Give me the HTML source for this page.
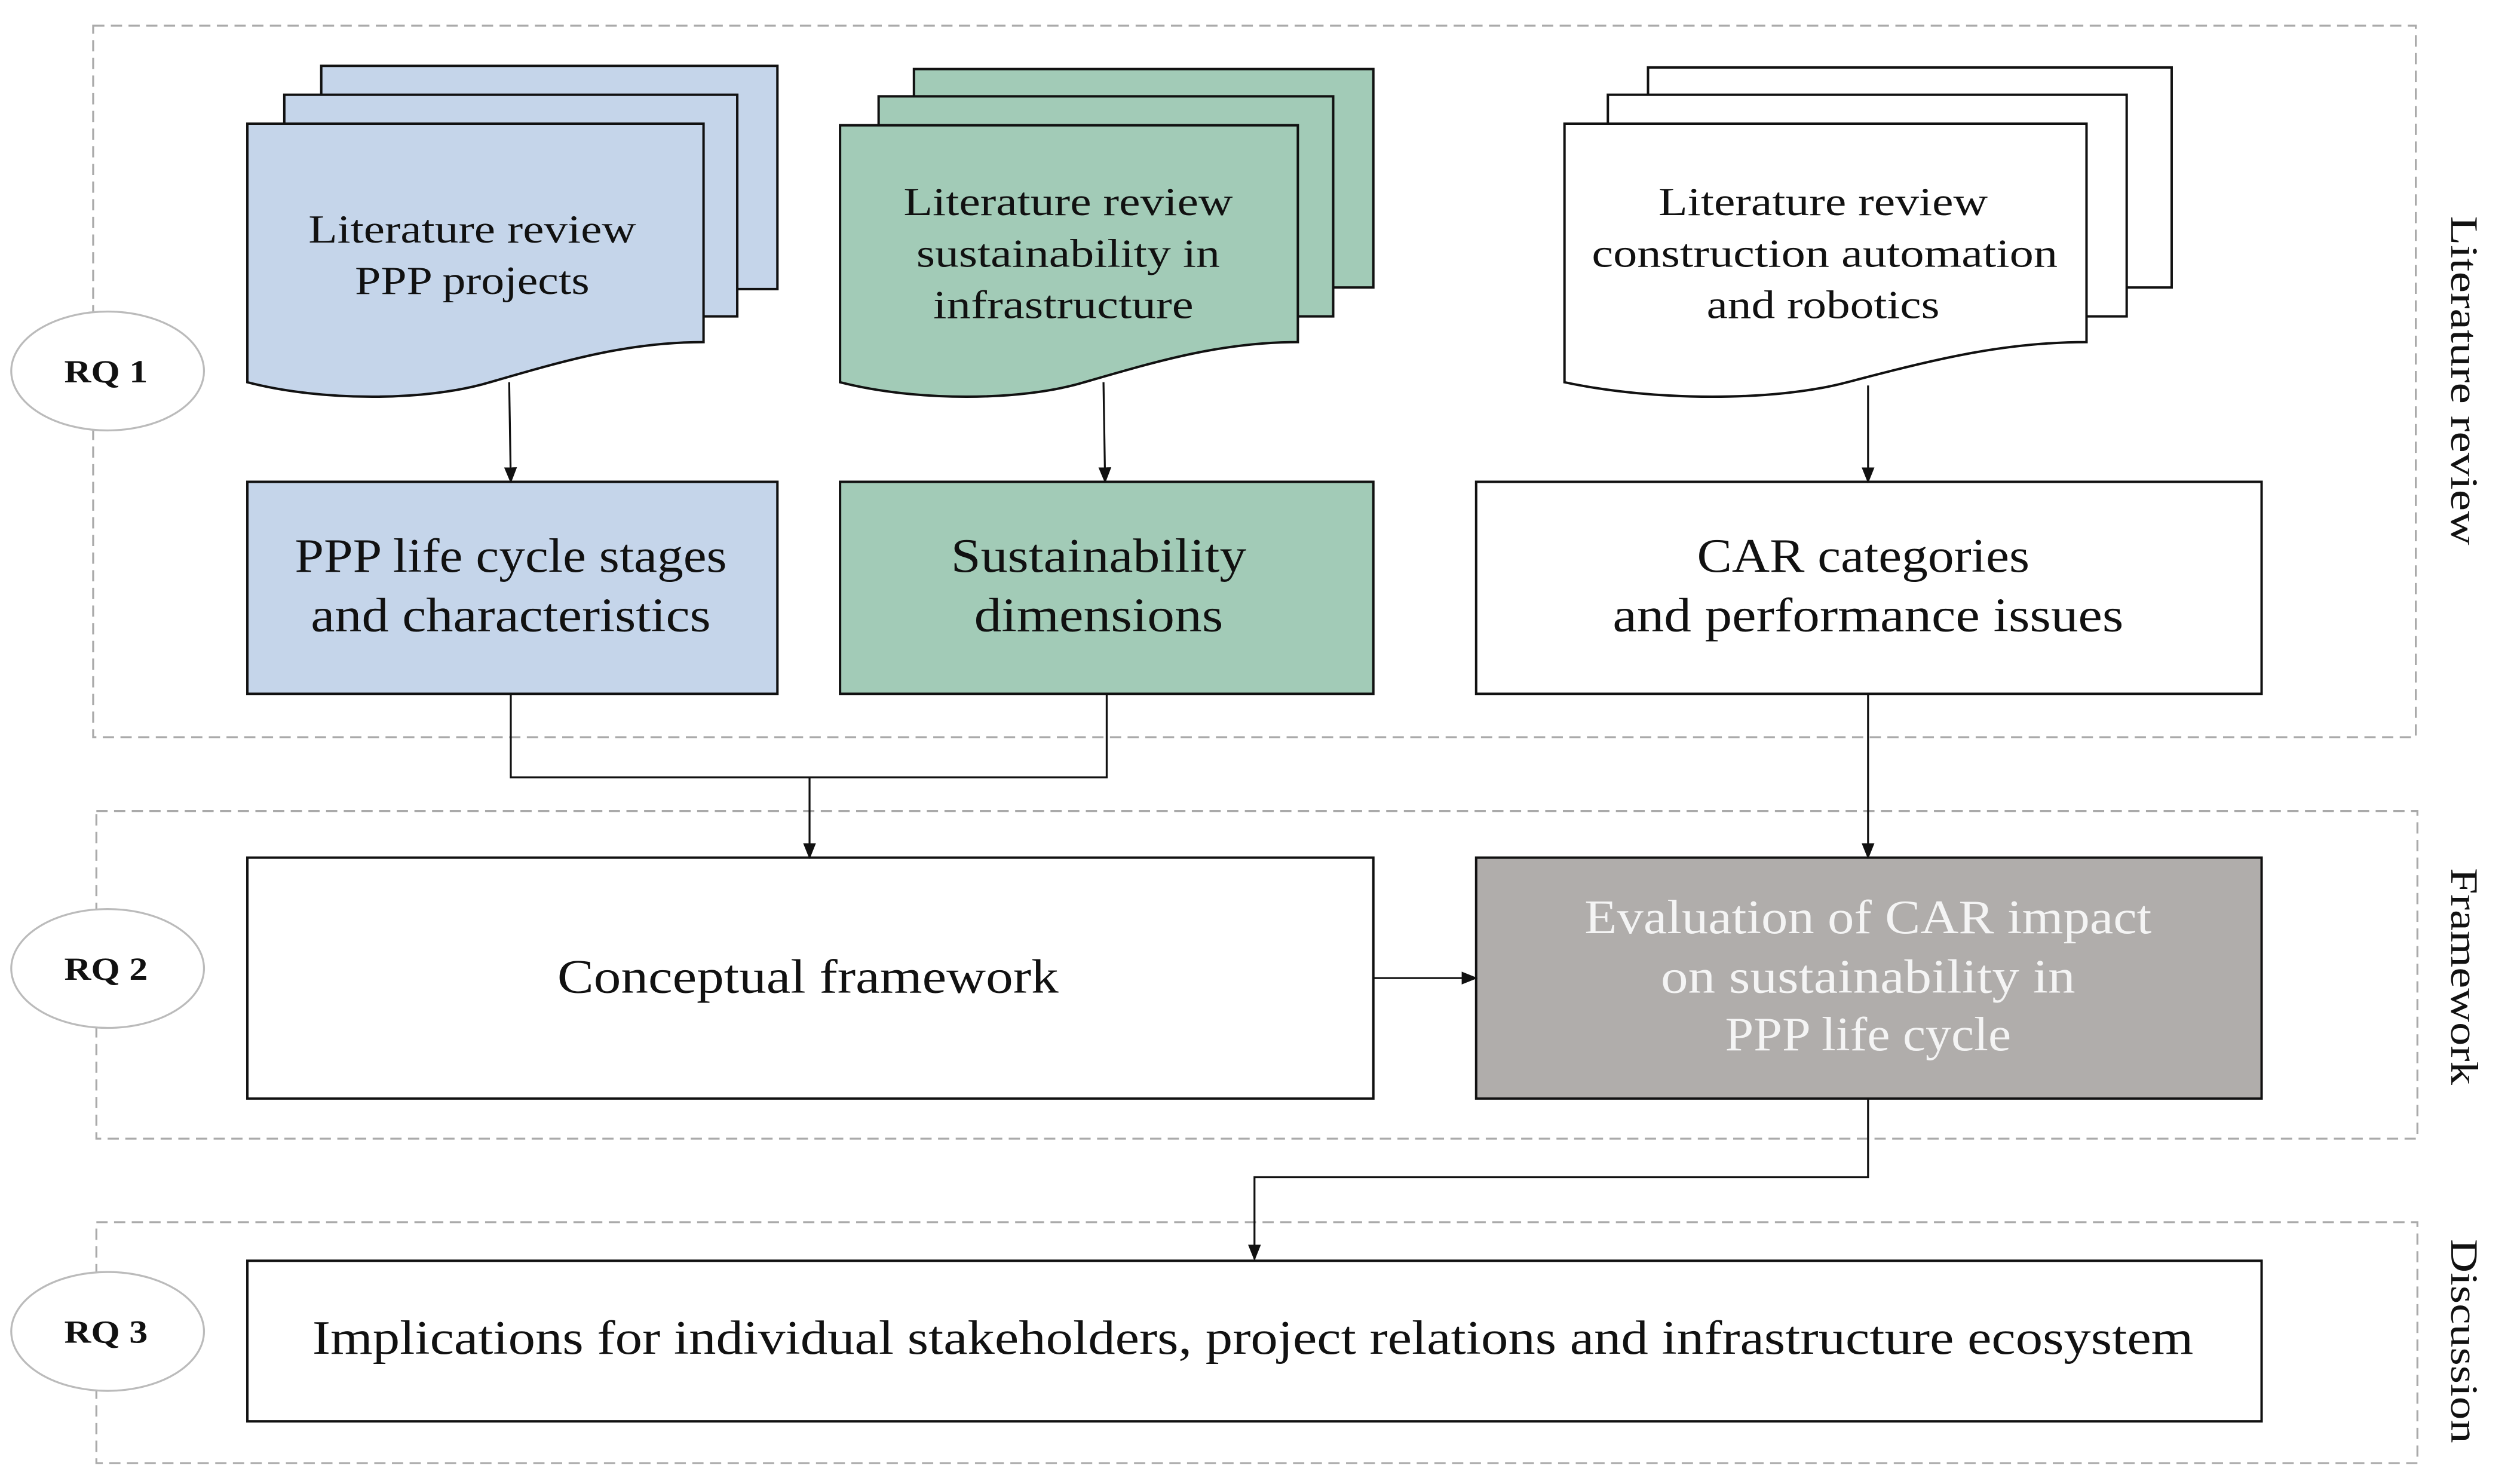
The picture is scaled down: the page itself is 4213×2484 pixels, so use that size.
<!DOCTYPE html>
<html><head><meta charset="utf-8"><style>
html,body{margin:0;padding:0;background:#fff;}
svg{display:block;}
text{font-family:"Liberation Serif",serif;fill:#111;}
</style></head><body>
<svg width="4213" height="2484" viewBox="0 0 1567 924" preserveAspectRatio="none" xmlns="http://www.w3.org/2000/svg">
<defs>
<marker id="a" markerWidth="10" markerHeight="10" refX="9" refY="5" orient="auto" markerUnits="userSpaceOnUse">
<path d="M0,1 L10,5 L0,9 Z" fill="#111"/></marker>
</defs>
<rect width="1567" height="924" fill="#fff"/>
<g fill="none" stroke="#aaa" stroke-width="1.2" stroke-dasharray="7,4">
<rect x="58" y="16" width="1446" height="443"/>
<rect x="60" y="505" width="1445" height="204"/>
<rect x="60" y="761" width="1445" height="150"/>
</g>
<g font-size="24">
<text transform="translate(1526,237) rotate(90)" text-anchor="middle" textLength="205" lengthAdjust="spacingAndGlyphs">Literature review</text>
<text transform="translate(1526,608) rotate(90)" text-anchor="middle" textLength="135" lengthAdjust="spacingAndGlyphs">Framework</text>
<text transform="translate(1526,835) rotate(90)" text-anchor="middle" textLength="127" lengthAdjust="spacingAndGlyphs">Discussion</text>
</g>
<g fill="#fff" stroke="#bbb" stroke-width="1.2">
<ellipse cx="67" cy="231" rx="60" ry="37"/>
<ellipse cx="67" cy="603" rx="60" ry="37"/>
<ellipse cx="67" cy="829" rx="60" ry="37"/>
</g>
<g font-size="20" font-weight="bold" text-anchor="middle">
<text x="66" y="238" textLength="52" lengthAdjust="spacingAndGlyphs">RQ 1</text>
<text x="66" y="610" textLength="52" lengthAdjust="spacingAndGlyphs">RQ 2</text>
<text x="66" y="836" textLength="52" lengthAdjust="spacingAndGlyphs">RQ 3</text>
</g>
<g stroke="#111" stroke-width="1.5">
<g fill="#c5d5ea">
<rect x="200" y="41" width="284" height="139"/>
<rect x="177" y="59" width="282" height="138"/>
<path d="M154,77 H438 V213 C390,213 350,225 305,238 C265,250 200,250 154,238 Z"/>
</g>
<g fill="#a2cbb7">
<rect x="569" y="43" width="286" height="136"/>
<rect x="547" y="60" width="283" height="137"/>
<path d="M523,78 H808 V213 C760,213 720,225 675,238 C635,250 570,250 523,238 Z"/>
</g>
<g fill="#fff">
<rect x="1026" y="42" width="326" height="137"/>
<rect x="1001" y="59" width="323" height="138"/>
<path d="M974,77 H1299 V213 C1245,213 1200,225 1150,238 C1105,250 1030,250 974,238 Z"/>
</g>
</g>
<g font-size="25" text-anchor="middle">
<text x="294" y="151" textLength="204" lengthAdjust="spacingAndGlyphs">Literature review</text>
<text x="294" y="183" textLength="146" lengthAdjust="spacingAndGlyphs">PPP projects</text>
<text x="665" y="134" textLength="205" lengthAdjust="spacingAndGlyphs">Literature review</text>
<text x="665" y="166" textLength="189" lengthAdjust="spacingAndGlyphs">sustainability in</text>
<text x="662" y="198" textLength="162" lengthAdjust="spacingAndGlyphs">infrastructure</text>
<text x="1135" y="134" textLength="205" lengthAdjust="spacingAndGlyphs">Literature review</text>
<text x="1136" y="166" textLength="290" lengthAdjust="spacingAndGlyphs">construction automation</text>
<text x="1135" y="198" textLength="145" lengthAdjust="spacingAndGlyphs">and robotics</text>
</g>
<g stroke="#111" stroke-width="1.5">
<rect x="154" y="300" width="330" height="132" fill="#c5d5ea"/>
<rect x="523" y="300" width="332" height="132" fill="#a2cbb7"/>
<rect x="919" y="300" width="489" height="132" fill="#fff"/>
<rect x="154" y="534" width="701" height="150" fill="#fff"/>
<rect x="919" y="534" width="489" height="150" fill="#b0adab"/>
<rect x="154" y="785" width="1254" height="100" fill="#fff"/>
</g>
<g font-size="30" text-anchor="middle">
<text x="318" y="356" textLength="269" lengthAdjust="spacingAndGlyphs">PPP life cycle stages</text>
<text x="318" y="393" textLength="249" lengthAdjust="spacingAndGlyphs">and characteristics</text>
<text x="684" y="356" textLength="184" lengthAdjust="spacingAndGlyphs">Sustainability</text>
<text x="684" y="393" textLength="155" lengthAdjust="spacingAndGlyphs">dimensions</text>
<text x="1160" y="356" textLength="207" lengthAdjust="spacingAndGlyphs">CAR categories</text>
<text x="1163" y="393" textLength="318" lengthAdjust="spacingAndGlyphs">and performance issues</text>
<text x="503" y="618" textLength="312" lengthAdjust="spacingAndGlyphs">Conceptual framework</text>
<text x="780" y="843" textLength="1171" lengthAdjust="spacingAndGlyphs">Implications for individual stakeholders, project relations and infrastructure ecosystem</text>
</g>
<g font-size="30" text-anchor="middle">
<text x="1163" y="581" textLength="353" lengthAdjust="spacingAndGlyphs" style="fill:#f4f4f4">Evaluation of CAR impact</text>
<text x="1163" y="618" textLength="258" lengthAdjust="spacingAndGlyphs" style="fill:#f4f4f4">on sustainability in</text>
<text x="1163" y="654" textLength="178" lengthAdjust="spacingAndGlyphs" style="fill:#f4f4f4">PPP life cycle</text>
</g>
<g fill="none" stroke="#111" stroke-width="1.2">
<line x1="317" y1="238" x2="318" y2="300" marker-end="url(#a)"/>
<line x1="687" y1="238" x2="688" y2="300" marker-end="url(#a)"/>
<line x1="1163" y1="240" x2="1163" y2="300" marker-end="url(#a)"/>
<polyline points="318,432 318,484 689,484 689,432"/>
<line x1="504" y1="484" x2="504" y2="534" marker-end="url(#a)"/>
<line x1="1163" y1="432" x2="1163" y2="534" marker-end="url(#a)"/>
<line x1="855" y1="609" x2="919" y2="609" marker-end="url(#a)"/>
<polyline points="1163,684 1163,733 781,733 781,784" marker-end="url(#a)"/>
</g>
</svg>
</body></html>
